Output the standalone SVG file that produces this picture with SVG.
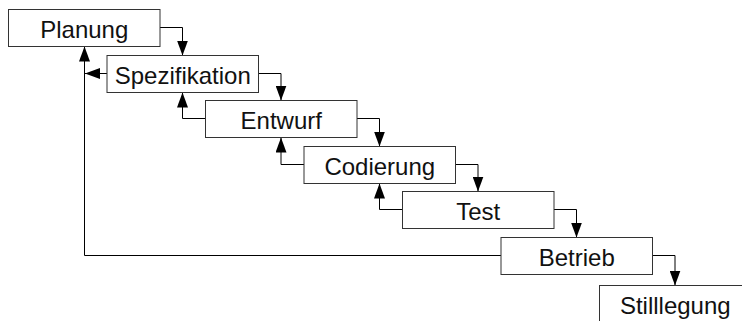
<svg xmlns="http://www.w3.org/2000/svg" width="742" height="321" viewBox="0 0 742 321">
<style>
.box{fill:#fff;stroke:#333;stroke-width:1}
.lbl{font-family:"Liberation Sans",Arial,sans-serif;font-size:24px;fill:#111;text-anchor:middle}
.con{fill:none;stroke:#000;stroke-width:1;marker-end:url(#ah)}
</style>
<defs>
<marker id="ah" markerUnits="userSpaceOnUse" markerWidth="15" markerHeight="11" refX="15" refY="5.5" orient="auto">
<path d="M0,0 L15,5.5 L0,11 z" fill="#000"/>
</marker>
</defs>
<rect width="742" height="321" fill="#fff"/>
<g id="connectors">
<path class="con" d="M160 27.5 H182.5 V55.5"/>
<path class="con" d="M258.5 73.5 H281 V100.5"/>
<path class="con" d="M357 118.5 H379.5 V146.5"/>
<path class="con" d="M455.5 164.5 H478 V191.5"/>
<path class="con" d="M554 209.5 H576.5 V237.5"/>
<path class="con" d="M652.5 255.5 H675 V285.5"/>
<path class="con" d="M205.5 118.5 H182.5 V92.5"/>
<path class="con" d="M304 164.5 H281 V137.5"/>
<path class="con" d="M402.5 209.5 H379.5 V183.5"/>
<path class="con" d="M501 255.5 H84.5 V46.5"/>
<path class="con" d="M107 73.5 H85"/>
</g>
<g id="n-planung"><rect class="box" x="8.5" y="9.5" width="151.5" height="37"/><text class="lbl" x="84.25" y="37.5">Planung</text></g>
<g id="n-spezifikation"><rect class="box" x="107" y="55.5" width="151.5" height="37"/><text class="lbl" x="182.75" y="83.5">Spezifikation</text></g>
<g id="n-entwurf"><rect class="box" x="205.5" y="100.5" width="151.5" height="37"/><text class="lbl" x="281.25" y="128.5">Entwurf</text></g>
<g id="n-codierung"><rect class="box" x="304" y="146.5" width="151.5" height="37"/><text class="lbl" x="379.75" y="174.5">Codierung</text></g>
<g id="n-test"><rect class="box" x="402.5" y="191.5" width="151.5" height="37"/><text class="lbl" x="478.25" y="219.5">Test</text></g>
<g id="n-betrieb"><rect class="box" x="501" y="237.5" width="151.5" height="37"/><text class="lbl" x="576.75" y="265.5">Betrieb</text></g>
<g id="n-stilllegung"><rect class="box" x="599.5" y="285.5" width="151.5" height="37"/><text class="lbl" x="675.25" y="313.5">Stilllegung</text></g>
</svg>
